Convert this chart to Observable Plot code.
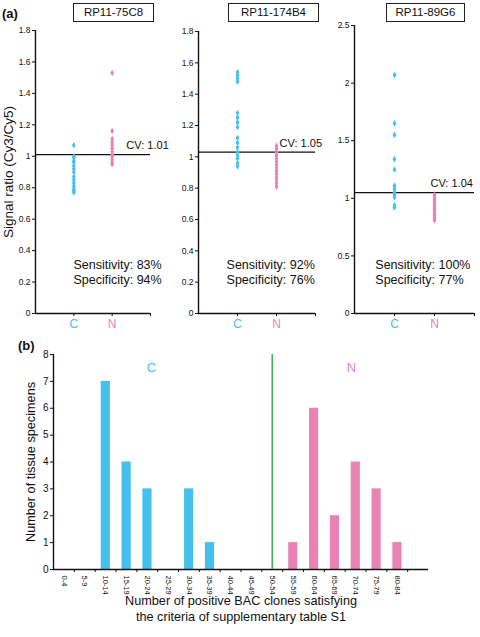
<!DOCTYPE html>
<html><head><meta charset="utf-8">
<script src="https://cdn.jsdelivr.net/npm/d3@7"></script>
<script src="https://cdn.jsdelivr.net/npm/@observablehq/plot@0.6"></script>
<style>
body{margin:0;background:#fff;font-family:"Liberation Sans",Arial,Helvetica,sans-serif;}
#root{position:relative;width:480px;height:637px;overflow:hidden;background:#fff;}
.panel{position:absolute;}
.box{position:absolute;border:1px solid #222;font-size:11.5px;text-align:center;line-height:17px;height:17px;color:#111;background:#fff;}
.tag{position:absolute;font-weight:bold;font-size:13px;color:#111;}
</style></head><body><div id="root"></div>
<script>
// ---------- data ----------
const cyan = "#45c0ec", pink = "#e883b4", green = "#3cb44b";
const groups = ["C", "N"];
const clones = ["RP11-75C8", "RP11-174B4", "RP11-89G6"];
const cvValues = ["1.01", "1.05", "1.04"];
const cvLevels = [1.01, 1.03, 1.05];
const sensitivity = ["83%", "92%", "100%"];
const specificity = ["94%", "76%", "77%"];

const c75C8 = [1.07, 1.00, 0.99, 0.97, 0.96, 0.94, 0.92, 0.90, 0.87, 0.85, 0.83, 0.81, 0.79, 0.78, 0.77];
const n75C8 = [1.53, 1.16, 1.11, 1.09, 1.07, 1.05, 1.03, 1.01, 1.00, 0.98, 0.96, 0.95];
const c174B4 = [1.54, 1.52, 1.50, 1.48, 1.28, 1.25, 1.22, 1.19, 1.12, 1.09, 1.06, 1.03, 1.01, 0.99, 0.96, 0.94];
const n174B4 = [1.07, 1.05, 1.03, 1.01, 0.99, 0.97, 0.95, 0.93, 0.91, 0.89, 0.87, 0.85, 0.83, 0.81];
const c89G6 = [2.07, 1.65, 1.55, 1.34, 1.25, 1.11, 1.08, 1.05, 1.03, 1.01, 0.94, 0.92];
const n89G6 = [1.03, 1.01, 0.99, 0.97, 0.95, 0.93, 0.91, 0.89, 0.87, 0.85, 0.83, 0.81];

const ticksA = [0, 0.2, 0.4, 0.6, 0.8, 1, 1.2, 1.4, 1.6, 1.8];
const ticksB = [0, 0.5, 1, 1.5, 2, 2.5];

const binLabels = ["0-4","5-9","10-14","15-19","20-24","25-29","30-34","35-39","40-44","45-49","50-54","55-59","60-64","65-69","70-74","75-79","80-84"];
const cCounts = [0,0,7,4,3,0,3,1,0,0,0,0,0,0,0,0,0];
const nCounts = [0,0,0,0,0,0,0,0,0,0,0,1,6,2,4,3,1];
const thresholdBin = "50-54";
const countTicks = [0,1,2,3,4,5,6,7,8];

// ---------- layout ----------
const FONT = '"Liberation Sans", Arial, Helvetica, sans-serif';
const root = document.getElementById("root");
function place(el, left, top) { el.classList.add("panel"); el.style.left = left + "px"; el.style.top = top + "px"; root.appendChild(el); }

const panelsA = [
  {c: c75C8, n: n75C8, ymax: 1.8, ticks: ticksA, left: 0, ml: 35, mr: 10, mt: 30, cvX: 2.37, sensX: 0.99, ylabel: true},
  {c: c174B4, n: n174B4, ymax: 1.8, ticks: ticksA, left: 160, ml: 38, mr: 5, mt: 31, cvX: 2.08, sensX: 0.72},
  {c: c89G6, n: n89G6, ymax: 2.5, ticks: ticksB, left: 320, ml: 34, mr: 6, mt: 25, cvX: 1.9, sensX: 0.52}
];

panelsA.forEach((p, i) => {
  const marks = [
    Plot.ruleX([0], {stroke: "#111", strokeWidth: 1.4}),
    Plot.ruleY([0], {stroke: "#111", strokeWidth: 1.4}),
    Plot.axisY({ticks: p.ticks, tickSize: 3, fontSize: 8.5, tickFormat: "~g", label: null, tickPadding: 2}),
    Plot.axisX({ticks: [1, 2, 3], tickSize: 3, tickFormat: () => "", label: null}),
    Plot.ruleY([cvLevels[i]], {x1: 0, x2: 3, stroke: "#111", strokeWidth: 1.3}),
    Plot.dot(p.c, {x: () => 1, y: d => d, symbol: "diamond", r: 2, fill: cyan, stroke: null}),
    Plot.dot(p.n, {x: () => 2, y: d => d, symbol: "diamond", r: 2, fill: pink, stroke: null}),
    Plot.text(["CV: " + cvValues[i]], {x: p.cvX, y: cvLevels[i], dy: -9, textAnchor: "start", fontSize: 11, fill: "#111"}),
    Plot.text(["Sensitivity: " + sensitivity[i]], {x: p.sensX, frameAnchor: "bottom", dy: -45, textAnchor: "start", fontSize: 12.5, fill: "#111"}),
    Plot.text(["Specificity: " + specificity[i]], {x: p.sensX, frameAnchor: "bottom", dy: -30, textAnchor: "start", fontSize: 12.5, fill: "#111"}),
    Plot.text(groups, {x: (d, j) => j + 1, frameAnchor: "bottom", dy: 14, fontSize: 12, fill: d => d === "C" ? cyan : pink})
  ];
  if (p.ylabel) marks.push(Plot.text(["Signal ratio (Cy3/Cy5)"], {frameAnchor: "left", rotate: -90, dx: -27, textAnchor: "middle", fontSize: 13.5, fill: "#111"}));
  const chart = Plot.plot({
    width: 160, height: 335, marginLeft: p.ml, marginRight: p.mr, marginTop: p.mt, marginBottom: 22,
    style: {background: "transparent", overflow: "visible", fontFamily: FONT, color: "#111"},
    x: {domain: [0, 3], axis: null},
    y: {domain: [0, p.ymax], axis: null},
    color: {type: "identity"},
    marks
  });
  place(chart, p.left, 0);
});

// titles & tags
const boxes = [[73, 79], [228, 89], [386, 77]];
clones.forEach((c, i) => {
  const b = document.createElement("div"); b.className = "box"; b.textContent = c;
  b.style.left = boxes[i][0] + "px"; b.style.top = "3px"; b.style.width = boxes[i][1] + "px";
  root.appendChild(b);
});
const ta = document.createElement("div"); ta.className = "tag"; ta.textContent = "(a)"; ta.style.left = "2px"; ta.style.top = "6px"; root.appendChild(ta);
const tb = document.createElement("div"); tb.className = "tag"; tb.textContent = "(b)"; tb.style.left = "18px"; tb.style.top = "338px"; root.appendChild(tb);

// ---------- panel (b) ----------
const bars = [];
binLabels.forEach((lab, i) => {
  if (cCounts[i] > 0) bars.push({i, v: cCounts[i], g: "C"});
  if (nCounts[i] > 0) bars.push({i, v: nCounts[i], g: "N"});
});
const nb = binLabels.length + 1;
const chartB = Plot.plot({
  width: 480, height: 307, marginLeft: 53, marginRight: 52, marginTop: 24, marginBottom: 68,
  style: {background: "transparent", overflow: "visible", fontFamily: FONT, color: "#111"},
  x: {domain: [0, nb], axis: null},
  y: {domain: [0, 8], axis: null},
  color: {type: "identity"},
  marks: [
    Plot.rectY(bars, {x1: d => d.i + 0.29, x2: d => d.i + 0.73, y1: 0, y2: "v", fill: d => d.g === "C" ? cyan : pink}),
    Plot.ruleX([0], {stroke: "#111", strokeWidth: 1.4}),
    Plot.ruleY([0], {x1: 0, x2: nb, stroke: "#111", strokeWidth: 1.4}),
    Plot.axisY({ticks: countTicks, tickSize: 3, fontSize: 10, label: null, tickPadding: 2}),
    Plot.axisX({ticks: d3.range(1, nb), tickSize: 3, tickFormat: () => "", label: null}),
    Plot.axisX({ticks: binLabels.map((d, i) => i + 0.5), tickSize: 0, tickRotate: 90, tickPadding: 6, fontSize: 7.5, tickFormat: d => binLabels[Math.floor(d)], label: null}),
    Plot.ruleX([thresholdBin], {x: d => binLabels.indexOf(d) + 0.5, y1: 0, y2: 8, stroke: green, strokeWidth: 1.6}),
    Plot.text(["C"], {x: 4.7, y: 7.5, fill: cyan, fontSize: 13}),
    Plot.text(["N"], {x: 14.3, y: 7.5, fill: pink, fontSize: 13}),
    Plot.text(["Number of tissue specimens"], {frameAnchor: "left", rotate: -90, dx: -23, textAnchor: "middle", fontSize: 12.7, fill: "#111"}),
    Plot.text(["Number of positive BAC clones satisfying\nthe criteria of supplementary table S1"], {frameAnchor: "bottom", lineAnchor: "top", dy: 25, lineHeight: 1.2, fontSize: 12.7, fill: "#111"})
  ]
});
place(chartB, 0, 330);
</script></body></html>
